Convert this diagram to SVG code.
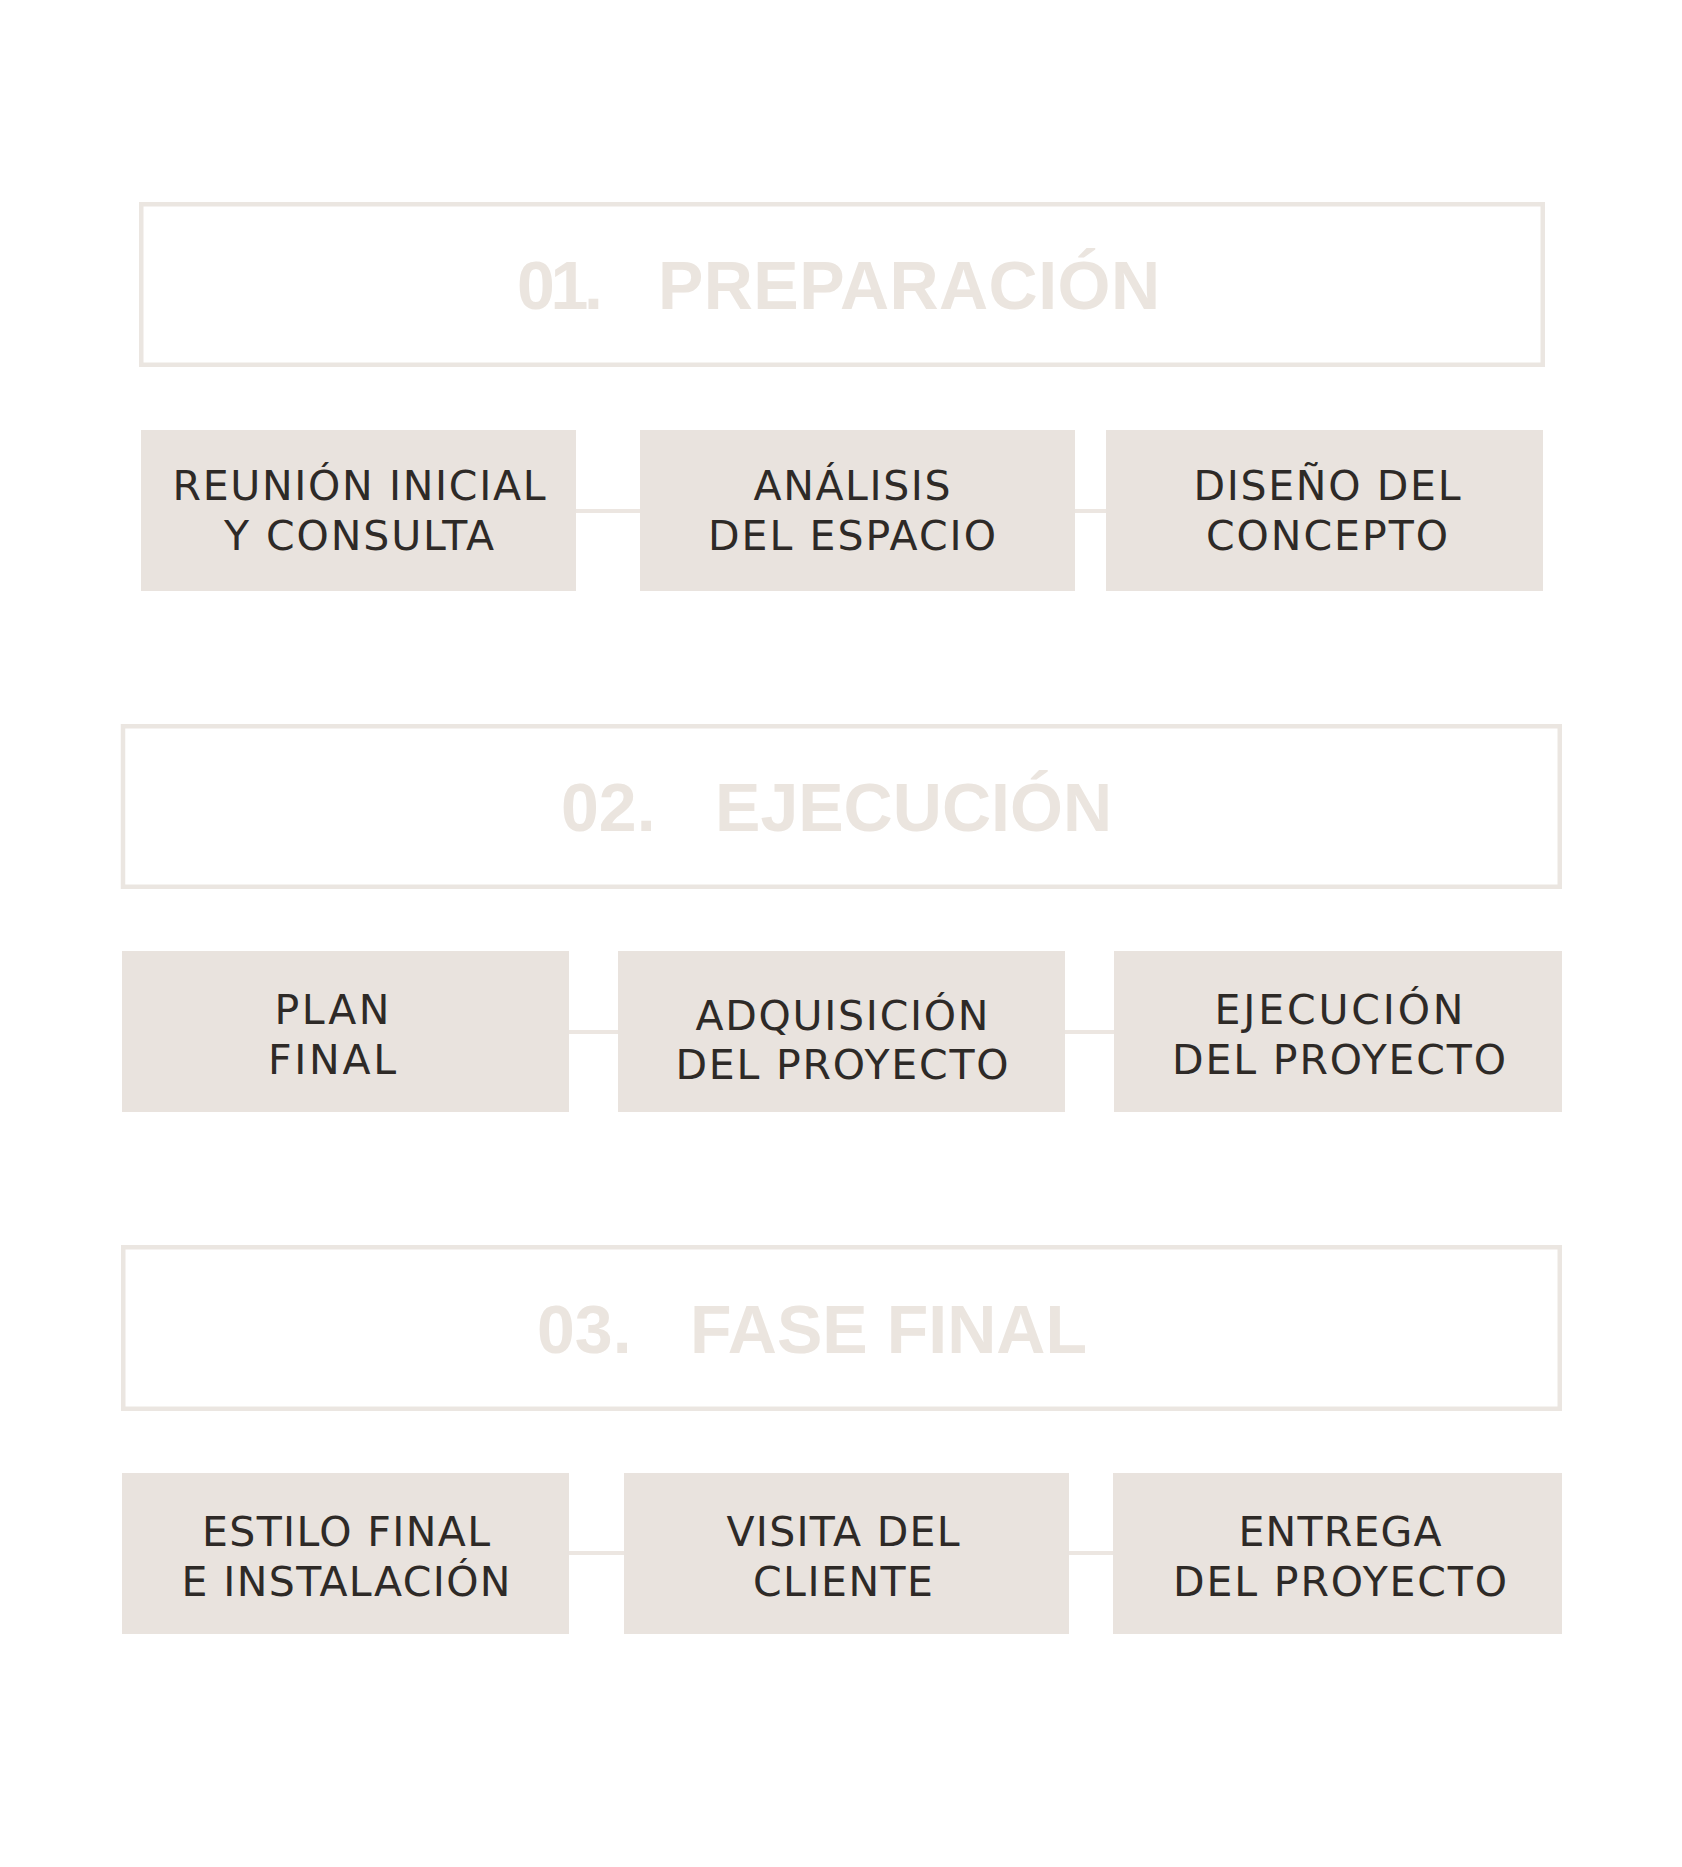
<svg xmlns="http://www.w3.org/2000/svg" width="1682" height="1867" viewBox="0 0 1682 1867">
<style>
.bg{fill:#ffffff}
.phase{fill:#ffffff;stroke:#ebe6e1;stroke-width:4.5}
.title{font-family:"Liberation Sans","DejaVu Sans",sans-serif;font-weight:bold;font-size:68px;fill:#ebe5df}
.step{fill:#e9e3de}
.label{font-family:"DejaVu Sans","Liberation Sans",sans-serif;font-size:41px;fill:#2e2a27;text-anchor:middle}
.conn{stroke:#ece6e1;stroke-width:4;fill:none}
</style>
<rect class="bg" x="0" y="0" width="1682" height="1867"/>

<g id="connectors">
<line class="conn" x1="576" y1="511" x2="640" y2="511"/>
<line class="conn" x1="1075" y1="511" x2="1106" y2="511"/>
<line class="conn" x1="569" y1="1032" x2="618" y2="1032"/>
<line class="conn" x1="1065" y1="1032" x2="1114" y2="1032"/>
<line class="conn" x1="569" y1="1553" x2="624" y2="1553"/>
<line class="conn" x1="1069" y1="1553" x2="1113" y2="1553"/>
</g>

<g id="phase1">
<rect class="phase" x="141.25" y="204.25" width="1401.5" height="160.5"/>
<text class="title" y="309"><tspan x="517" textLength="86" lengthAdjust="spacing">01.</tspan><tspan x="658" textLength="502" lengthAdjust="spacing">PREPARACIÓN</tspan></text>
</g>
<g id="step-reunion">
<rect class="step" x="141" y="430" width="435" height="161"/>
<text class="label"><tspan x="359" y="500" textLength="373" lengthAdjust="spacing">REUNIÓN INICIAL</tspan><tspan x="359" y="550" textLength="270" lengthAdjust="spacing">Y CONSULTA</tspan></text>
</g>
<g id="step-analisis">
<rect class="step" x="640" y="430" width="435" height="161"/>
<text class="label"><tspan x="852" y="500" textLength="197" lengthAdjust="spacing">ANÁLISIS</tspan><tspan x="852" y="550" textLength="288" lengthAdjust="spacing">DEL ESPACIO</tspan></text>
</g>
<g id="step-diseno">
<rect class="step" x="1106" y="430" width="437" height="161"/>
<text class="label"><tspan x="1327" y="500" textLength="267" lengthAdjust="spacing">DISEÑO DEL</tspan><tspan x="1327" y="550" textLength="242" lengthAdjust="spacing">CONCEPTO</tspan></text>
</g>

<g id="phase2">
<rect class="phase" x="123" y="726.25" width="1436.75" height="160.5"/>
<text class="title" y="831"><tspan x="561">02.</tspan><tspan x="715" textLength="397" lengthAdjust="spacing">EJECUCIÓN</tspan></text>
</g>
<g id="step-plan">
<rect class="step" x="122" y="951" width="447" height="161"/>
<text class="label"><tspan x="332" y="1024" textLength="115" lengthAdjust="spacing">PLAN</tspan><tspan x="332" y="1074" textLength="128" lengthAdjust="spacing">FINAL</tspan></text>
</g>
<g id="step-adquisicion">
<rect class="step" x="618" y="951" width="447" height="161"/>
<text class="label"><tspan x="842" y="1030" textLength="293" lengthAdjust="spacing">ADQUISICIÓN</tspan><tspan x="842" y="1079" textLength="333" lengthAdjust="spacing">DEL PROYECTO</tspan></text>
</g>
<g id="step-ejecucion">
<rect class="step" x="1114" y="951" width="448" height="161"/>
<text class="label"><tspan x="1339" y="1024" textLength="249" lengthAdjust="spacing">EJECUCIÓN</tspan><tspan x="1339" y="1074" textLength="334" lengthAdjust="spacing">DEL PROYECTO</tspan></text>
</g>

<g id="phase3">
<rect class="phase" x="123.25" y="1247.25" width="1436.5" height="161.5"/>
<text class="title" y="1353"><tspan x="537">03.</tspan><tspan x="690" textLength="397" lengthAdjust="spacing">FASE FINAL</tspan></text>
</g>
<g id="step-estilo">
<rect class="step" x="122" y="1473" width="447" height="161"/>
<text class="label"><tspan x="346" y="1546" textLength="288" lengthAdjust="spacing">ESTILO FINAL</tspan><tspan x="346" y="1596" textLength="329" lengthAdjust="spacing">E INSTALACIÓN</tspan></text>
</g>
<g id="step-visita">
<rect class="step" x="624" y="1473" width="445" height="161"/>
<text class="label"><tspan x="843" y="1546" textLength="233" lengthAdjust="spacing">VISITA DEL</tspan><tspan x="843" y="1596" textLength="180" lengthAdjust="spacing">CLIENTE</tspan></text>
</g>
<g id="step-entrega">
<rect class="step" x="1113" y="1473" width="449" height="161"/>
<text class="label"><tspan x="1340" y="1546" textLength="203" lengthAdjust="spacing">ENTREGA</tspan><tspan x="1340" y="1596" textLength="334" lengthAdjust="spacing">DEL PROYECTO</tspan></text>
</g>
</svg>
